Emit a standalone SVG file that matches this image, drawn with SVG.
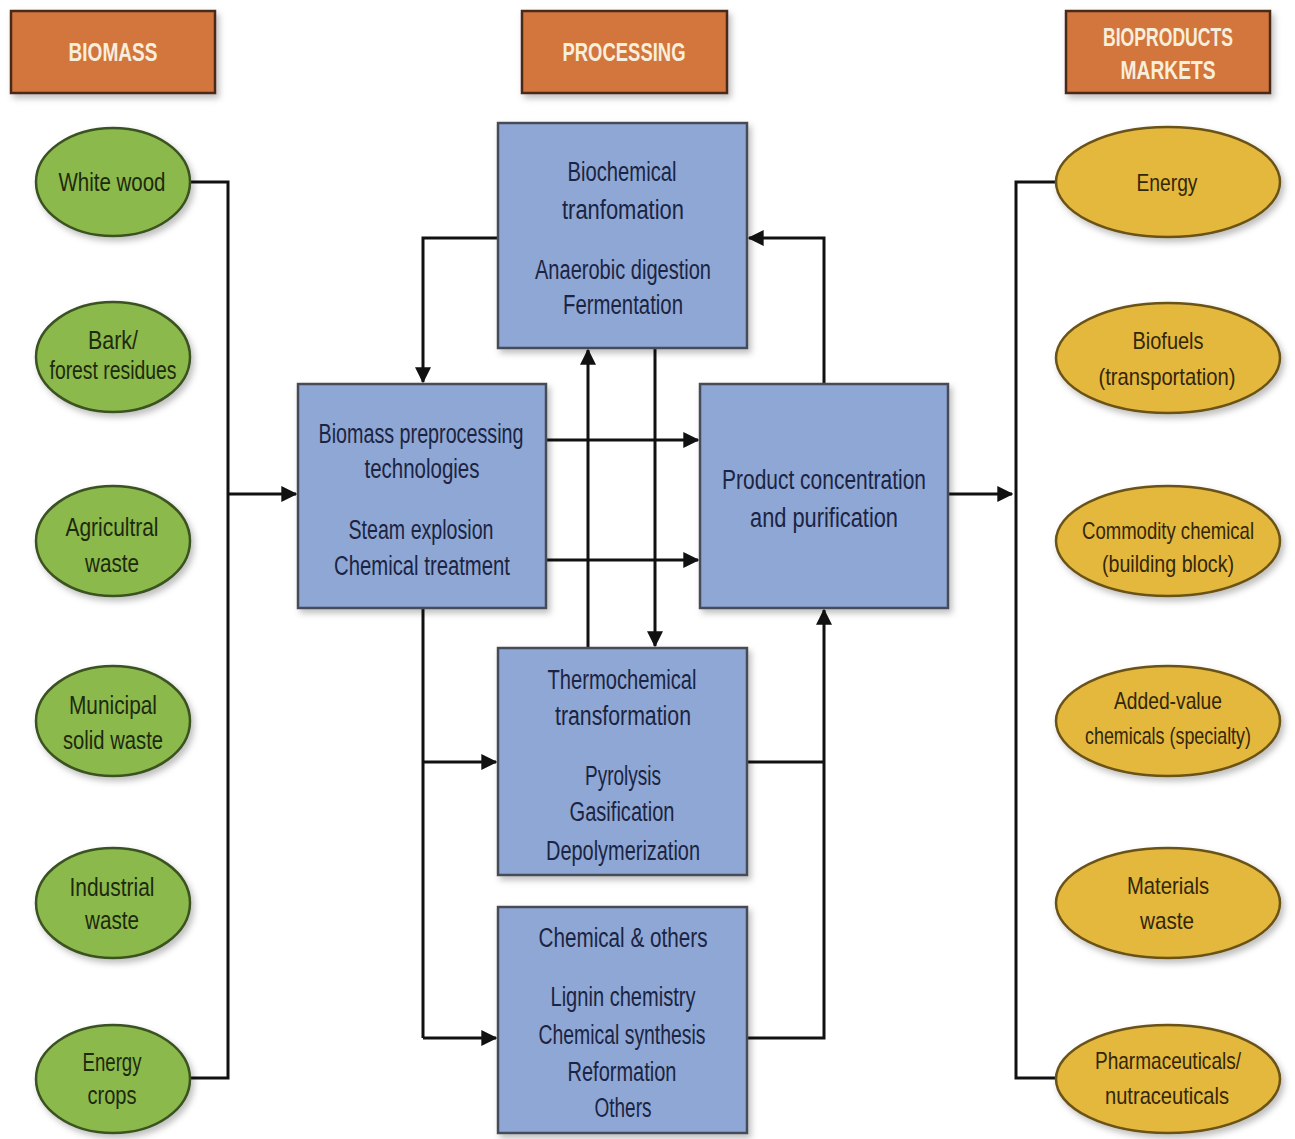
<svg xmlns="http://www.w3.org/2000/svg" width="1295" height="1139" viewBox="0 0 1295 1139">
<defs>
<filter id="sh" x="-10%" y="-10%" width="125%" height="125%">
<feDropShadow dx="3" dy="4" stdDeviation="3" flood-color="#000" flood-opacity="0.25"/>
</filter>
<marker id="ah" viewBox="0 0 12 12" refX="11" refY="6" markerWidth="16" markerHeight="16" markerUnits="userSpaceOnUse" orient="auto">
<path d="M0,0 L12,6 L0,12 z" fill="#111"/>
</marker>
<style>
.hdr{fill:#D2763E;stroke:#4a2a18;stroke-width:2.5;filter:url(#sh)}
.ht{font-family:"Liberation Sans",sans-serif;font-size:26px;fill:#f7eedc;text-anchor:middle;font-weight:bold}
.gr{fill:#8CB94B;stroke:#3b5220;stroke-width:2.5;filter:url(#sh)}
.ye{fill:#E4B73E;stroke:#6a5219;stroke-width:2.5;filter:url(#sh)}
.bx{fill:#8FA7D4;stroke:#464b58;stroke-width:2.5;filter:url(#sh)}
.gt{font-family:"Liberation Sans",sans-serif;font-size:26px;fill:#1c2a0e;text-anchor:middle}
.yt{font-family:"Liberation Sans",sans-serif;font-size:24px;fill:#33270a;text-anchor:middle}
.bt{font-family:"Liberation Sans",sans-serif;font-size:27px;fill:#1b2442;text-anchor:middle}
.ln{fill:none;stroke:#111;stroke-width:3}
.ar{fill:none;stroke:#111;stroke-width:3;marker-end:url(#ah)}
</style>
</defs>
<rect width="1295" height="1139" fill="#fff"/>

<g id="hdr-biomass"><rect class="hdr" x="11" y="11" width="204" height="82"/><text class="ht" x="113" y="61" textLength="89" lengthAdjust="spacingAndGlyphs">BIOMASS</text></g>
<g id="hdr-processing"><rect class="hdr" x="522" y="11" width="205" height="82"/><text class="ht" x="624" y="61" textLength="123" lengthAdjust="spacingAndGlyphs">PROCESSING</text></g>
<g id="hdr-markets"><rect class="hdr" x="1066" y="11" width="204" height="82"/><text class="ht" x="1168" y="46" textLength="130" lengthAdjust="spacingAndGlyphs">BIOPRODUCTS</text><text class="ht" x="1168" y="79" textLength="95" lengthAdjust="spacingAndGlyphs">MARKETS</text></g>

<g id="connectors">
<path class="ln" d="M190,182 H228 V1078 H190"/>
<path class="ar" d="M228,494 H296"/>
<path class="ln" d="M1057,182 H1016 V1078 H1057"/>
<path class="ar" d="M948,494 H1012"/>
<path class="ar" d="M498,238 H423 V382"/>
<path class="ar" d="M824,384 V238 H749"/>
<path class="ar" d="M546,440 H698"/>
<path class="ar" d="M546,560 H698"/>
<path class="ar" d="M588,648 V350"/>
<path class="ar" d="M655,348 V646"/>
<path class="ln" d="M423,608 V1038"/>
<path class="ar" d="M423,762 H496"/>
<path class="ar" d="M423,1038 H496"/>
<path class="ln" d="M747,762 H824"/>
<path class="ar" d="M747,1038 H824 V610"/>
</g>

<g id="white-wood"><ellipse class="gr" cx="113" cy="182" rx="77" ry="54"/><text class="gt" x="112" y="191" textLength="107" lengthAdjust="spacingAndGlyphs">White wood</text></g>
<g id="bark"><ellipse class="gr" cx="113" cy="357" rx="77" ry="55"/><text class="gt" x="113" y="349" textLength="50" lengthAdjust="spacingAndGlyphs">Bark/</text><text class="gt" x="113" y="379" textLength="127" lengthAdjust="spacingAndGlyphs">forest residues</text></g>
<g id="agri"><ellipse class="gr" cx="113" cy="541" rx="77" ry="55"/><text class="gt" x="112" y="536" textLength="93" lengthAdjust="spacingAndGlyphs">Agricultral</text><text class="gt" x="112" y="572" textLength="54" lengthAdjust="spacingAndGlyphs">waste</text></g>
<g id="municipal"><ellipse class="gr" cx="113" cy="721" rx="77" ry="55"/><text class="gt" x="113" y="714" textLength="88" lengthAdjust="spacingAndGlyphs">Municipal</text><text class="gt" x="113" y="749" textLength="100" lengthAdjust="spacingAndGlyphs">solid waste</text></g>
<g id="industrial"><ellipse class="gr" cx="113" cy="903" rx="77" ry="55"/><text class="gt" x="112" y="896" textLength="85" lengthAdjust="spacingAndGlyphs">Industrial</text><text class="gt" x="112" y="929" textLength="54" lengthAdjust="spacingAndGlyphs">waste</text></g>
<g id="energy-crops"><ellipse class="gr" cx="113" cy="1079" rx="77" ry="54"/><text class="gt" x="112" y="1071" textLength="59" lengthAdjust="spacingAndGlyphs">Energy</text><text class="gt" x="112" y="1104" textLength="49" lengthAdjust="spacingAndGlyphs">crops</text></g>

<g id="energy"><ellipse class="ye" cx="1168" cy="182" rx="112" ry="55"/><text class="yt" x="1167" y="191" textLength="61" lengthAdjust="spacingAndGlyphs">Energy</text></g>
<g id="biofuels"><ellipse class="ye" cx="1168" cy="358" rx="112" ry="55"/><text class="yt" x="1168" y="349" textLength="71" lengthAdjust="spacingAndGlyphs">Biofuels</text><text class="yt" x="1167" y="385" textLength="137" lengthAdjust="spacingAndGlyphs">(transportation)</text></g>
<g id="commodity"><ellipse class="ye" cx="1168" cy="541" rx="112" ry="55"/><text class="yt" x="1168" y="539" textLength="172" lengthAdjust="spacingAndGlyphs">Commodity chemical</text><text class="yt" x="1168" y="572" textLength="132" lengthAdjust="spacingAndGlyphs">(building block)</text></g>
<g id="added-value"><ellipse class="ye" cx="1168" cy="721" rx="112" ry="55"/><text class="yt" x="1168" y="709" textLength="108" lengthAdjust="spacingAndGlyphs">Added-value</text><text class="yt" x="1168" y="744" textLength="166" lengthAdjust="spacingAndGlyphs">chemicals (specialty)</text></g>
<g id="materials"><ellipse class="ye" cx="1168" cy="903" rx="112" ry="55"/><text class="yt" x="1168" y="894" textLength="82" lengthAdjust="spacingAndGlyphs">Materials</text><text class="yt" x="1167" y="929" textLength="54" lengthAdjust="spacingAndGlyphs">waste</text></g>
<g id="pharma"><ellipse class="ye" cx="1168" cy="1079" rx="112" ry="54"/><text class="yt" x="1168" y="1069" textLength="146" lengthAdjust="spacingAndGlyphs">Pharmaceuticals/</text><text class="yt" x="1167" y="1104" textLength="124" lengthAdjust="spacingAndGlyphs">nutraceuticals</text></g>

<g id="biochemical"><rect class="bx" x="498" y="123" width="249" height="225"/>
<text class="bt" x="622" y="181" textLength="109" lengthAdjust="spacingAndGlyphs">Biochemical</text>
<text class="bt" x="623" y="219" textLength="122" lengthAdjust="spacingAndGlyphs">tranfomation</text>
<text class="bt" x="623" y="279" textLength="176" lengthAdjust="spacingAndGlyphs">Anaerobic digestion</text>
<text class="bt" x="623" y="314" textLength="120" lengthAdjust="spacingAndGlyphs">Fermentation</text></g>

<g id="preprocessing"><rect class="bx" x="298" y="384" width="248" height="224"/>
<text class="bt" x="421" y="443" textLength="205" lengthAdjust="spacingAndGlyphs">Biomass preprocessing</text>
<text class="bt" x="422" y="478" textLength="115" lengthAdjust="spacingAndGlyphs">technologies</text>
<text class="bt" x="421" y="539" textLength="145" lengthAdjust="spacingAndGlyphs">Steam explosion</text>
<text class="bt" x="422" y="575" textLength="176" lengthAdjust="spacingAndGlyphs">Chemical treatment</text></g>

<g id="product"><rect class="bx" x="700" y="384" width="248" height="224"/>
<text class="bt" x="824" y="489" textLength="204" lengthAdjust="spacingAndGlyphs">Product concentration</text>
<text class="bt" x="824" y="527" textLength="148" lengthAdjust="spacingAndGlyphs">and purification</text></g>

<g id="thermochemical"><rect class="bx" x="498" y="648" width="249" height="227"/>
<text class="bt" x="622" y="689" textLength="149" lengthAdjust="spacingAndGlyphs">Thermochemical</text>
<text class="bt" x="623" y="725" textLength="136" lengthAdjust="spacingAndGlyphs">transformation</text>
<text class="bt" x="623" y="785" textLength="76" lengthAdjust="spacingAndGlyphs">Pyrolysis</text>
<text class="bt" x="622" y="821" textLength="105" lengthAdjust="spacingAndGlyphs">Gasification</text>
<text class="bt" x="623" y="860" textLength="154" lengthAdjust="spacingAndGlyphs">Depolymerization</text></g>

<g id="chemical-others"><rect class="bx" x="498" y="907" width="249" height="226"/>
<text class="bt" x="623" y="947" textLength="169" lengthAdjust="spacingAndGlyphs">Chemical  &amp; others</text>
<text class="bt" x="623" y="1006" textLength="145" lengthAdjust="spacingAndGlyphs">Lignin chemistry</text>
<text class="bt" x="622" y="1044" textLength="167" lengthAdjust="spacingAndGlyphs">Chemical synthesis</text>
<text class="bt" x="622" y="1081" textLength="109" lengthAdjust="spacingAndGlyphs">Reformation</text>
<text class="bt" x="623" y="1117" textLength="57" lengthAdjust="spacingAndGlyphs">Others</text></g>
</svg>
